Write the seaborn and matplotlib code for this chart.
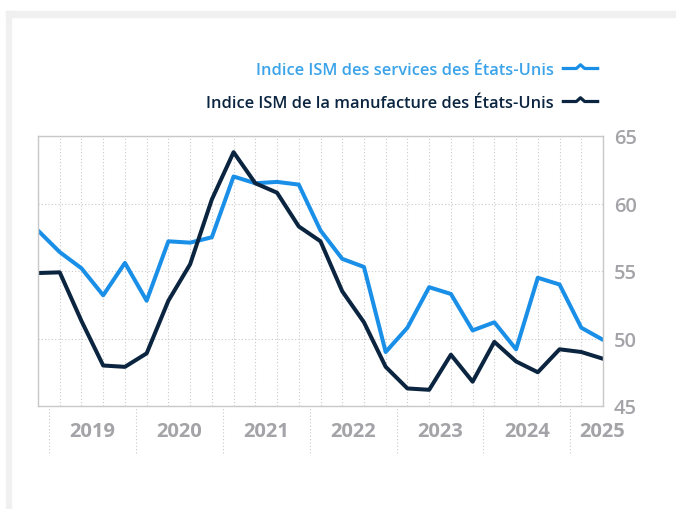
import numpy as np
import pandas as pd
import matplotlib.pyplot as plt
from matplotlib.path import Path
from matplotlib.lines import Line2D
from matplotlib.patches import Rectangle
import seaborn as sns

# quarterly values, 2018 Q4 -> 2025 Q2
quarters = list(range(27))
services = [58.0, 56.4, 55.2, 53.2, 55.6, 52.8, 57.2, 57.1, 57.5, 62.0,
            61.5, 61.6, 61.4, 58.0, 55.9, 55.3, 49.0, 50.8, 53.8, 53.3,
            50.6, 51.2, 49.2, 54.5, 54.0, 50.8, 49.9]
manufacturing = [54.85, 54.9, 51.3, 48.0, 47.9, 48.9, 52.8, 55.5, 60.3, 63.8,
                 61.5, 60.8, 58.3, 57.2, 53.5, 51.2, 47.9, 46.3, 46.2, 48.8,
                 46.8, 49.75, 48.3, 47.5, 49.2, 49.0, 48.5]
years = ["2019", "2020", "2021", "2022", "2023", "2024", "2025"]
year_label_pos = [2.5, 6.5, 10.5, 14.5, 18.5, 22.5, 25.98]
year_bounds = [0.5, 4.5, 8.5, 12.5, 16.5, 20.5, 24.5]

lab_serv = "Indice ISM des services des États-Unis"
lab_manu = "Indice ISM de la manufacture des États-Unis"

blue = "#1a8fe8"
navy = "#0b2540"
grey_txt = "#a3a3a8"
grid_c = "#c9c9c9"

df = pd.DataFrame({
    "q": quarters * 2,
    "val": services + manufacturing,
    "serie": [lab_serv] * len(services) + [lab_manu] * len(manufacturing),
})

sns.set_style("white")
plt.rcParams["font.family"] = ["Open Sans", "DejaVu Sans"]

fig = plt.figure(figsize=(6.76, 5.10), dpi=100)
fig.patches.append(Rectangle((6 / 676, 0), 5 / 676, 1 - 12 / 510, transform=fig.transFigure,
                             color="#f0f0f0", zorder=0))
fig.patches.append(Rectangle((6 / 676, 1 - 18 / 510), 1, 6 / 510, transform=fig.transFigure,
                             color="#f0f0f0", zorder=0))

ax = fig.add_axes([38 / 676, 103 / 510, 565 / 676, 270 / 510])
sns.lineplot(data=df, x="q", y="val", hue="serie", palette={lab_serv: blue, lab_manu: navy},
             linewidth=2.9, ax=ax, legend=False)

ax.set_xlim(0, 26)
ax.set_ylim(45, 65)
ax.set_xlabel("")
ax.set_ylabel("")

# grid
ax.set_xticks(quarters)
ax.set_xticklabels([])
ax.set_yticks([45, 50, 55, 60, 65])
ax.grid(True, linestyle=(0, (1, 2)), color=grid_c, linewidth=0.8)
ax.set_axisbelow(True)
ax.tick_params(axis="x", which="major", length=0)

ax.set_xticks(year_label_pos, minor=True)
ax.set_xticklabels(years, minor=True)
ax.tick_params(axis="x", which="minor", length=0, pad=11, labelsize=14.5,
               labelcolor=grey_txt)
for t in ax.get_xticklabels(minor=True):
    t.set_fontweight("bold")

ax.yaxis.tick_right()
ax.tick_params(axis="y", length=0, pad=8, labelsize=14.5, labelcolor=grey_txt)
for t in ax.get_yticklabels():
    t.set_fontweight("semibold")

for x in year_bounds:
    ax.axvline(x, ymin=-0.175, ymax=0, clip_on=False, linestyle=(0, (1, 2)),
               color=grid_c, linewidth=0.8)

for s in ax.spines.values():
    s.set_visible(True)
    s.set_color("#c8c8c8")
    s.set_linewidth(1)

# legend with a small "peak" marker
peak = Path([(-1, 0), (-0.22, 0), (0, 0.2), (0.22, 0), (1, 0)],
            [Path.MOVETO, Path.LINETO, Path.LINETO, Path.LINETO, Path.LINETO])
handles = [Line2D([], [], linestyle="none", marker=peak, markersize=27,
                  markeredgewidth=2.3, markerfacecolor="none", markeredgecolor=c)
           for c in (blue, navy)]
fig.legend(handles, [lab_serv, lab_manu], loc="upper right",
           bbox_to_anchor=(606 / 676, 1 - 55 / 510), markerfirst=False, frameon=False,
           labelcolor=["#3ba3ea", navy], prop={"size": 11.8, "weight": "semibold"},
           labelspacing=1.0, handletextpad=0.5, handlelength=2.2, borderpad=0)

fig.savefig("out.png", dpi=100)
